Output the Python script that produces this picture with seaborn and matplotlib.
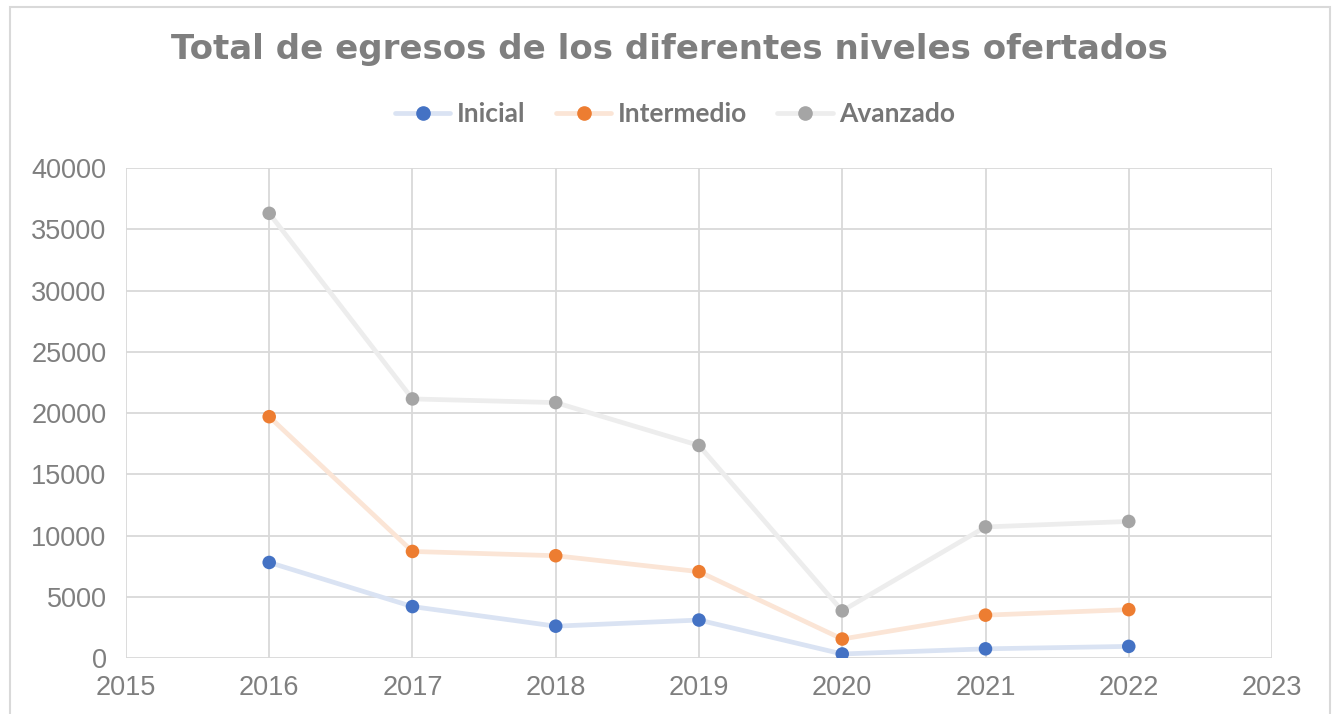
#Import Libraries
import pandas as pd
import numpy as np
import seaborn as sb
import matplotlib.pyplot as plt
from matplotlib.lines import Line2D
from matplotlib.patches import Rectangle

#Data
years = [2016, 2017, 2018, 2019, 2020, 2021, 2022]
inicial = [7800, 4200, 2600, 3100, 330, 750, 950]
intermedio = [19700, 8700, 8350, 7050, 1550, 3500, 3950]
avanzado = [36300, 21150, 20850, 17350, 3850, 10700, 11150]
niveles = ["Inicial", "Intermedio", "Avanzado"]

lineColors = ["#dae3f3", "#fbe5d6", "#ededed"]
markerColors = ["#4472c4", "#ed7d31", "#a5a5a5"]

#Long table for seaborn
dataset = pd.DataFrame({
    "Year": years * 3,
    "Egresos": inicial + intermedio + avanzado,
    "Nivel": np.repeat(niveles, len(years)),
})

sb.set_style("white")
plt.rcParams["font.family"] = ["Liberation Sans", "DejaVu Sans"]

fig = plt.figure(figsize=(13.37, 7.14), dpi=100)
ax = fig.add_axes([0.0942, 0.0784, 0.8572, 0.6863])

#Lines (light) and markers (strong)
sb.lineplot(data=dataset, x="Year", y="Egresos", hue="Nivel", palette=lineColors,
            linewidth=3.4, legend=False, ax=ax, zorder=3)
sb.scatterplot(data=dataset, x="Year", y="Egresos", hue="Nivel", palette=markerColors,
               s=95, edgecolor="none", legend=False, ax=ax, zorder=4)

#Custom the Graph
ax.set_xlim(2015, 2023)
ax.set_ylim(0, 40000)
ax.set_xticks(range(2015, 2024))
ax.set_yticks(range(0, 40001, 5000))
ax.grid(True, color="#d9d9d9", linewidth=1.3)
ax.set_axisbelow(True)
for s in ax.spines.values():
    s.set_visible(False)
ax.tick_params(axis="both", length=0, labelsize=19.5, labelcolor="#7f7f7f")
ax.tick_params(axis="x", pad=12)
ax.tick_params(axis="y", pad=14)
ax.set_xlabel("")
ax.set_ylabel("")

#Title
fig.text(0.501, 0.930, "Total de egresos de los diferentes niveles ofertados",
         ha="center", va="center", fontsize=24.5, fontweight="bold", color="#7f7f7f",
         family=["DejaVu Sans"])

#Legend
handles = [Line2D([0], [0], color=lc, linewidth=3.4, marker="o", markersize=9.5,
                  markerfacecolor=mc, markeredgecolor=mc)
           for lc, mc in zip(lineColors, markerColors)]
leg = fig.legend(handles, niveles, loc="center", bbox_to_anchor=(0.505, 0.840), ncol=3,
                 frameon=False, handlelength=2.1, handletextpad=0.25, columnspacing=1.15,
                 prop={"family": ["Lato", "DejaVu Sans"], "weight": "bold", "size": 19})
for t in leg.get_texts():
    t.set_color("#767676")

#Chart frame
fig.patches.append(Rectangle((10 / 1337, -0.05), 1320 / 1337, 0.99 + 0.05, transform=fig.transFigure,
                             fill=False, edgecolor="#d9d9d9", linewidth=1.5, clip_on=False))

plt.savefig("out.png", dpi=100)
